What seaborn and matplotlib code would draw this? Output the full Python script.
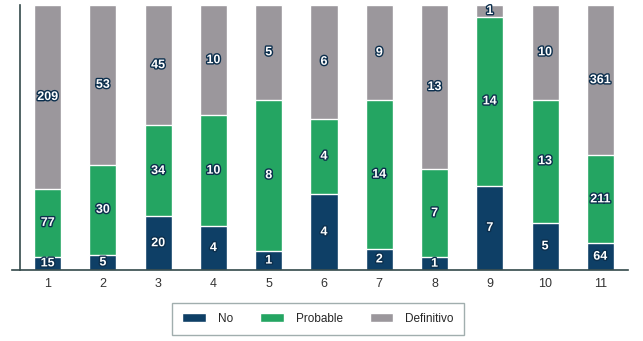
import matplotlib
matplotlib.use("Agg")
import matplotlib.pyplot as plt
import matplotlib.patheffects as pe
import numpy as np
import pandas as pd
import seaborn as sns

# Data
groups = ["1", "2", "3", "4", "5", "6", "7", "8", "9", "10", "11"]
no_vals = [15, 5, 20, 4, 1, 4, 2, 1, 7, 5, 64]
probable_vals = [77, 30, 34, 10, 8, 4, 14, 7, 14, 13, 211]
definitivo_vals = [209, 53, 45, 10, 5, 6, 9, 13, 1, 10, 361]

series = ["No", "Probable", "Definitivo"]
colors = {"No": "#0e3f66", "Probable": "#24a562", "Definitivo": "#9b979c"}

sns.set_style("white")
plt.rcParams["font.family"] = ["Liberation Sans", "DejaVu Sans"]

df = pd.DataFrame({"grupo": groups, "No": no_vals,
                   "Probable": probable_vals, "Definitivo": definitivo_vals})
total = df[series].sum(axis=1)
pct = df[series].div(total, axis=0) * 100
cum = pct.cumsum(axis=1)

fig = plt.figure(figsize=(6.43, 3.41), dpi=100)
ax = fig.add_axes([12 / 643, 1 - 270 / 341, (628 - 12) / 643, 265 / 341])

# stacked 100% bars: draw tallest cumulative layer first
for s in reversed(series):
    sns.barplot(x=df["grupo"], y=cum[s], color=colors[s], width=0.49,
                saturation=1, ax=ax, label=s, order=groups)
handles, labels = ax.get_legend_handles_labels()
if ax.get_legend() is not None:
    ax.get_legend().remove()

# segment labels
for i in range(len(groups)):
    low = 0
    for s in series:
        mid = low + pct.loc[i, s] / 2
        ax.text(i, mid, str(df.loc[i, s]), ha="center", va="center",
                color="white", fontsize=9, fontweight="bold",
                path_effects=[pe.withStroke(linewidth=2, foreground="#0c2f4d")])
        low = cum.loc[i, s]

ax.set_ylim(0, 100)
ax.set_xlim(-0.645, 10.5)
ax.set_xlabel("")
ax.set_ylabel("")
ax.set_yticks([])

spine_col = "#34494a"
for side in ["top", "right"]:
    ax.spines[side].set_visible(False)
ax.spines["left"].set_position(("data", -0.5))
ax.spines["left"].set_color(spine_col)
ax.spines["bottom"].set_color(spine_col)
ax.spines["left"].set_linewidth(1.2)
ax.spines["bottom"].set_linewidth(1.2)

ax.set_xticks(range(len(groups)))
ax.set_xticklabels(groups, fontsize=9, color="#333333")
ax.tick_params(axis="x", which="major", length=0, pad=6)
ax.set_xticks(np.arange(-0.5, len(groups), 1), minor=True)
ax.tick_params(axis="x", which="minor", length=5, width=1.2, color=spine_col,
               direction="out")

# legend in the original order
order = [labels.index(s) for s in series]
leg = fig.legend([handles[k] for k in order], [labels[k] for k in order],
                 loc="center", bbox_to_anchor=(318 / 643, 1 - 319 / 341),
                 ncol=3, frameon=True, fancybox=False, fontsize=8.5,
                 handlelength=2.0, handleheight=0.8, columnspacing=2.3,
                 handletextpad=1.0, borderpad=0.85)
leg.get_frame().set_edgecolor("#8a9a9a")
leg.get_frame().set_linewidth(1.0)

fig.savefig("out.png", dpi=100)
